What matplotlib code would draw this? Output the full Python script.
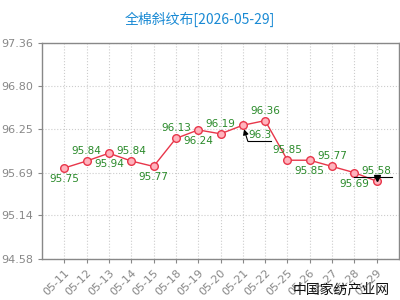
import matplotlib
matplotlib.use('Agg')
import matplotlib.pyplot as plt

plt.rcParams['font.family'] = ['Noto Sans CJK SC', 'DejaVu Sans']

# data
dates = ['05-11', '05-12', '05-13', '05-14', '05-15', '05-18', '05-19', '05-20',
         '05-21', '05-22', '05-25', '05-26', '05-27', '05-28', '05-29']
prices = [95.75, 95.84, 95.94, 95.84, 95.77, 96.13, 96.24, 96.19,
          96.3, 96.36, 95.85, 95.85, 95.77, 95.69, 95.58]
label_pos = ['below', 'above', 'below', 'above', 'below', 'above', 'below', 'above',
             'arrow', 'above', 'above', 'below', 'above', 'below', 'above']
yticks = [94.58, 95.14, 95.69, 96.25, 96.80, 97.36]

fig = plt.figure(figsize=(4, 3), dpi=100)
ax = fig.add_axes([0.105, 0.137, 0.8925, 0.72])

x = list(range(len(dates)))
ax.plot(x, prices, color='#e8364a', lw=1, marker='o', markersize=5.5,
        markerfacecolor='#ffb3bd', markeredgecolor='#e8364a', markeredgewidth=1, zorder=3)

green = '#2a8a2a'
for i, (v, pos) in enumerate(zip(prices, label_pos)):
    if pos == 'above':
        ax.annotate(f'{v:g}', (i, v), xytext=(0, 5), textcoords='offset pixels',
                    ha='center', va='bottom', color=green, fontsize=7.5, family='DejaVu Sans')
    elif pos == 'below':
        ax.annotate(f'{v:g}', (i, v), xytext=(0, -6), textcoords='offset pixels',
                    ha='center', va='top', color=green, fontsize=7.5, family='DejaVu Sans')
    else:
        # callout: arrow up to the point, line under the label
        ax.annotate('', (i, v), xytext=(5, -16), textcoords='offset pixels',
                    arrowprops=dict(arrowstyle='-|>', color='black', lw=0.8,
                                    shrinkA=0, shrinkB=3, mutation_scale=8))
        ax.annotate(f'{v:g}', (i, v), xytext=(6, -15), textcoords='offset pixels',
                    ha='left', va='bottom', color=green, fontsize=7.5, family='DejaVu Sans')
        ax.plot([i + 5 / 22.4, i + 28 / 22.4], [v - 16 / 77.7] * 2, color='black', lw=0.8, zorder=4)

# last point marker with horizontal line
last = len(prices) - 1
ax.plot([last - 1.0, last + 0.7], [prices[last] + 0.06] * 2, color='black', lw=0.8, zorder=4)
ax.plot(last, prices[last] + 0.045, marker='v', color='black', markersize=5, zorder=5)

ax.set_xlim(-1, len(dates))
ax.set_ylim(yticks[0], yticks[-1])
ax.set_yticks(yticks)
ax.set_yticklabels([f'{t:.2f}' for t in yticks])
ax.set_xticks(x)
ax.set_xticklabels(dates, rotation=45, ha='right', rotation_mode='anchor')

ax.grid(True, color='#cccccc', linestyle=':', lw=0.8)
for s in ax.spines.values():
    s.set_color('#888888')
    s.set_linewidth(1)
ax.tick_params(colors='#888888', labelsize=8, length=3)
for lbl in ax.get_xticklabels() + ax.get_yticklabels():
    lbl.set_color('#888888')
    lbl.set_family('DejaVu Sans')

fig.text(0.5, 0.935, '全棉斜纹布[2026-05-29]', ha='center', va='center',
         color='#1a8ad4', fontsize=10)
fig.text(0.975, 0.035, '中国家纺产业网', ha='right', va='center', color='#111111', fontsize=10)

plt.savefig('out.png', dpi=100)
